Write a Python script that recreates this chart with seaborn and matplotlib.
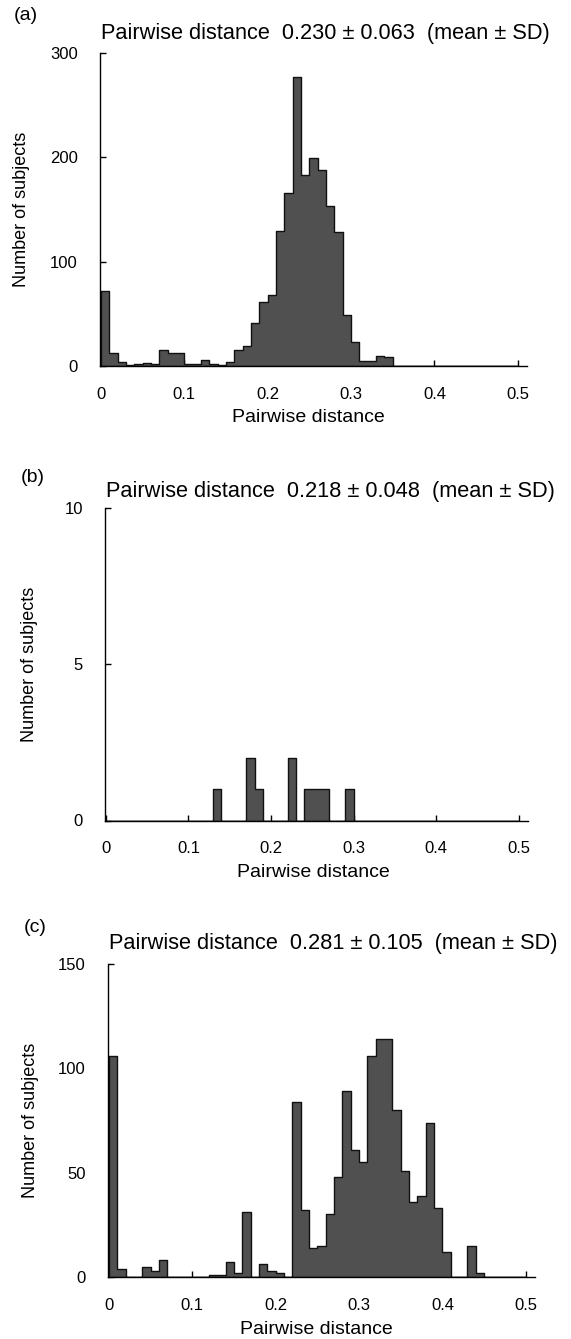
import matplotlib
matplotlib.use("Agg")
import matplotlib.pyplot as plt
import numpy as np
import pandas as pd
import seaborn as sns

# histogram counts per 0.01-wide bin, bins 0.00 .. 0.49
bin_width = 0.01
n_bins = 50
bin_centers = np.arange(n_bins) * bin_width + bin_width / 2

counts_a = [72, 12, 4, 1, 2, 3, 2, 15, 12, 12,
            2, 2, 6, 2, 1, 4, 15, 19, 41, 61,
            68, 129, 166, 277, 183, 199, 188, 153, 128, 49,
            23, 5, 5, 10, 9, 0, 0, 0, 0, 0,
            0, 0, 0, 0, 0, 0, 0, 0, 0, 0]
counts_b = [0, 0, 0, 0, 0, 0, 0, 0, 0, 0,
            0, 0, 0, 1, 0, 0, 0, 2, 1, 0,
            0, 0, 2, 0, 1, 1, 1, 0, 0, 1,
            0, 0, 0, 0, 0, 0, 0, 0, 0, 0,
            0, 0, 0, 0, 0, 0, 0, 0, 0, 0]
counts_c = [106, 4, 0, 0, 5, 3, 8, 0, 0, 0,
            0, 0, 1, 1, 7, 2, 31, 0, 6, 3,
            2, 0, 84, 32, 14, 15, 30, 48, 89, 61,
            55, 106, 114, 114, 80, 51, 36, 39, 74, 33,
            12, 0, 0, 15, 2, 0, 0, 0, 0, 0]

panel_labels = ["(a)", "(b)", "(c)"]
titles = ["Pairwise distance  0.230 ± 0.063  (mean ± SD)",
          "Pairwise distance  0.218 ± 0.048  (mean ± SD)",
          "Pairwise distance  0.281 ± 0.105  (mean ± SD)"]
y_ticks = [[0, 100, 200, 300], [0, 5, 10], [0, 50, 100, 150]]
x_ticks = [0, 0.1, 0.2, 0.3, 0.4, 0.5]
x_tick_labels = ["0", "0.1", "0.2", "0.3", "0.4", "0.5"]

sns.set_style("white")
plt.rcParams["font.family"] = ["Liberation Sans", "DejaVu Sans"]
plt.rcParams["text.color"] = "black"

W, H = 571, 1339
fig = plt.figure(figsize=(W / 100, H / 100), dpi=100)

# axes boxes in pixels: left, top, right, bottom
boxes = [(100, 53, 527, 366), (105, 508, 528, 820.5), (108, 964, 535, 1277)]
label_pos = [(26, 16), (33, 477), (35, 927)]
title_y = [33, 492, 943]
ylabel_x = [22, 30, 31]

for i, counts in enumerate([counts_a, counts_b, counts_c]):
    l, t, r, b = boxes[i]
    df = pd.DataFrame({"distance": bin_centers, "count": counts})
    ax = fig.add_axes([l / W, 1 - b / H, (r - l) / W, (b - t) / H])
    sns.histplot(data=df, x="distance", weights="count",
                 bins=n_bins, binrange=(0, 0.5),
                 element="step", fill=True, color="#505050",
                 edgecolor="#111111", linewidth=1.0, alpha=1, ax=ax)
    ax.set_xlim(-0.001, 0.511)
    ax.set_ylim(0, y_ticks[i][-1])
    ax.set_xticks(x_ticks)
    ax.set_xticklabels(x_tick_labels)
    ax.set_yticks(y_ticks[i])
    ax.set_xlabel("")
    ax.set_ylabel("")
    ax.set_axisbelow(True)
    for side in ["top", "right"]:
        ax.spines[side].set_visible(False)
    for side in ["left", "bottom"]:
        ax.spines[side].set_color("black")
        ax.spines[side].set_linewidth(1.0)
    ax.tick_params(axis="both", direction="in", length=4, width=1,
                   color="black", labelsize=12, labelcolor="black",
                   bottom=True, left=True)
    ax.tick_params(axis="x", pad=15)
    ax.tick_params(axis="y", pad=16)

    fig.text(label_pos[i][0] / W, 1 - label_pos[i][1] / H, panel_labels[i],
             ha="center", va="center", fontsize=14)
    fig.text((l + 1) / W, 1 - title_y[i] / H, titles[i],
             ha="left", va="center", fontsize=15.7)
    fig.text((l + 0.25 * 835) / W, 1 - (b + 52) / H, "Pairwise distance",
             ha="center", va="center", fontsize=14)
    fig.text(ylabel_x[i] / W, 1 - (t + b) / 2 / H, "Number of subjects",
             ha="center", va="center", rotation=90, fontsize=13)

fig.savefig("out.png", dpi=100)
plt.close(fig)
